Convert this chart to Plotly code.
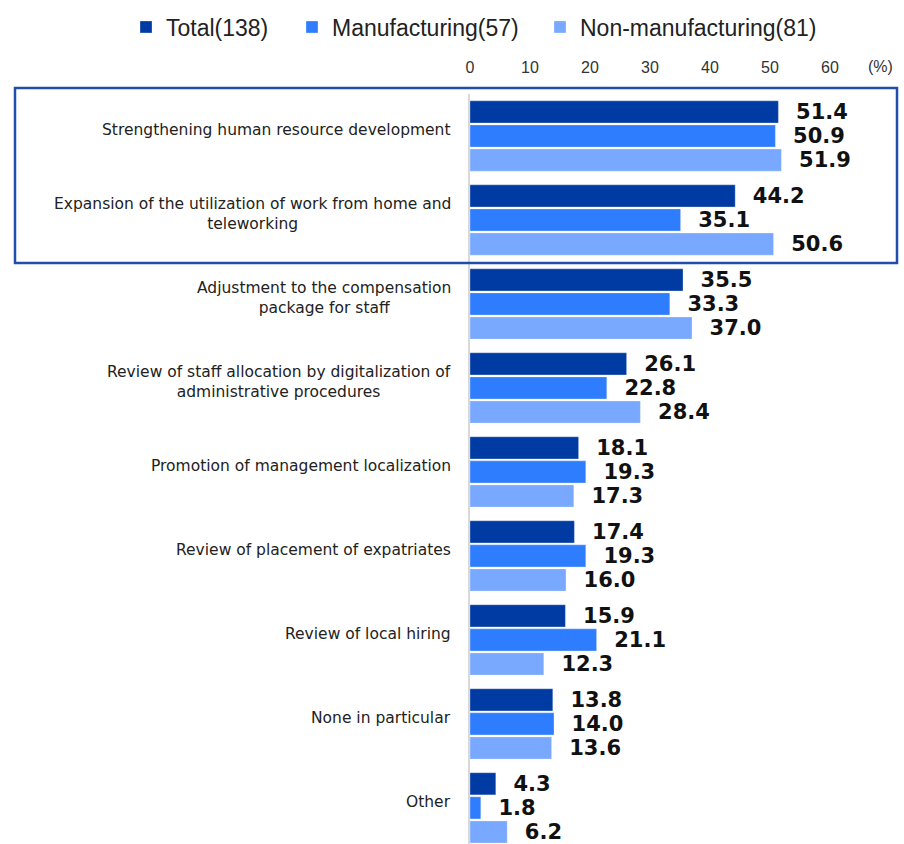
import plotly.graph_objects as go

categories = [
    "Strengthening human resource development",
    "Expansion of the utilization of work from home and<br>teleworking",
    "Adjustment to the compensation<br>package for staff",
    "Review of staff allocation by digitalization of<br>administrative procedures",
    "Promotion of management localization",
    "Review of placement of expatriates",
    "Review of local hiring",
    "None in particular",
    "Other",
]
total = [51.4, 44.2, 35.5, 26.1, 18.1, 17.4, 15.9, 13.8, 4.3]
manufacturing = [50.9, 35.1, 33.3, 22.8, 19.3, 19.3, 21.1, 14.0, 1.8]
non_manufacturing = [51.9, 50.6, 37.0, 28.4, 17.3, 16.0, 12.3, 13.6, 6.2]
series_names = ["Total(138)", "Manufacturing(57)", "Non-manufacturing(81)"]
colors = ["#003BA3", "#2F7DFF", "#78A8FF"]
x_ticks = [0, 10, 20, 30, 40, 50, 60]

ids = list(range(len(categories)))
legend_ids = ["legend", "legend2", "legend3"]
legend_x_px = [126, 292, 540]

fig = go.Figure()
for name, vals, col, lg in zip(series_names, [total, manufacturing, non_manufacturing], colors, legend_ids):
    fig.add_trace(go.Bar(
        y=ids, x=vals, name=name, orientation="h", legend=lg,
        marker=dict(color=col, line=dict(color="rgba(255,255,255,0.6)", width=0.5)),
        text=vals,
        texttemplate="\u00a0\u00a0%{x:.1f}",
        textposition="outside",
        constraintext="none",
        cliponaxis=False,
        textfont=dict(family="DejaVu Sans", size=21, color="#111111", weight="bold"),
    ))

annotations = []
for i, lab in enumerate(categories):
    annotations.append(dict(
        x=0, xref="paper", y=i, yref="y", text=lab, showarrow=False,
        xanchor="right", yanchor="middle", align="center", xshift=-17, yshift=6,
        font=dict(family="DejaVu Sans", size=15.5, color="#222222"),
    ))
annotations.append(dict(
    x=(880 - 470) / 420, xref="paper", y=1.036, yref="paper",
    text="(%)", showarrow=False, xanchor="center", yanchor="middle",
    font=dict(family="Liberation Sans", size=16, color="#333333"),
))

legend_common = dict(
    orientation="h", xref="container", yref="container",
    y=0.968, xanchor="left", yanchor="middle",
    font=dict(family="Liberation Sans", size=23, color="#222222"),
    itemclick=False, itemdoubleclick=False, bgcolor="rgba(0,0,0,0)",
)
legends = {}
for lg, px in zip(legend_ids, legend_x_px):
    legends[lg] = dict(legend_common, x=px / 904)

fig.update_layout(
    width=904, height=844,
    margin=dict(l=470, r=14, t=94, b=0),
    paper_bgcolor="white", plot_bgcolor="white",
    barmode="group", bargap=0.14, bargroupgap=0.08,
    showlegend=True,
    xaxis=dict(
        range=[0, 70], side="top", tickvals=x_ticks, ticktext=[str(t) for t in x_ticks],
        showgrid=False, zeroline=False, showline=False, ticks="",
        tickfont=dict(family="Liberation Sans", size=16, color="#333333"),
        ticklabelstandoff=17,
    ),
    yaxis=dict(
        range=[8.43, -0.5], showticklabels=False, showgrid=False, zeroline=False,
        showline=True, linecolor="#d9d9d9", linewidth=2, ticks="",
    ),
    annotations=annotations,
    shapes=[dict(
        type="rect", xref="paper", yref="paper",
        x0=(15 - 470) / 420, x1=(897 - 470) / 420,
        y0=(844 - 263) / 750, y1=(844 - 88) / 750,
        line=dict(color="#1F4FAA", width=2.5), fillcolor="rgba(0,0,0,0)",
    )],
    **legends,
)

fig.write_html(
    "out.html",
    config={"displayModeBar": False},
    post_script="document.body.style.margin='0';document.body.style.overflow='hidden';",
)
